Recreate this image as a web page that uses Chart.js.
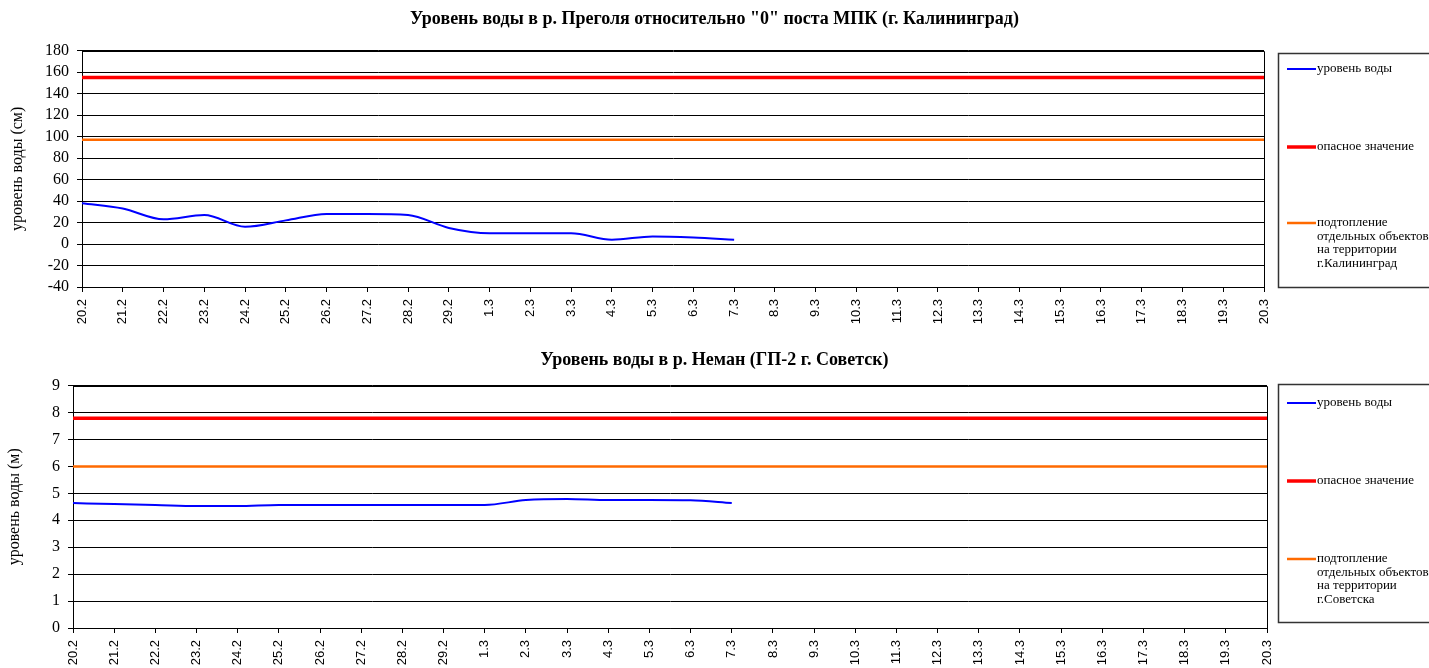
<!DOCTYPE html>
<html>
<head>
<meta charset="utf-8">
<script src="https://cdn.jsdelivr.net/npm/chart.js@4/dist/chart.umd.min.js"></script>
<style>
  html, body { margin: 0; padding: 0; background: #fff; }
  canvas { position: absolute; left: 0; }
  #kld { top: 0; }
  #sov { top: 335px; }
</style>
</head>
<body>
<canvas id="kld" width="1429" height="335"></canvas>
<canvas id="sov" width="1429" height="333"></canvas>
<script>
// ---- data ----
const days = [
  '20.2', '21.2', '22.2', '23.2', '24.2', '25.2', '26.2', '27.2', '28.2', '29.2',
  '1.3', '2.3', '3.3', '4.3', '5.3', '6.3', '7.3', '8.3', '9.3', '10.3',
  '11.3', '12.3', '13.3', '14.3', '15.3', '16.3', '17.3', '18.3', '19.3', '20.3',
];

// Преголя, см
const levelKld = [38, 33, 23, 27, 16, 22, 28, 28, 27, 15, 10, 10, 10, 4, 7, 6, 4];
const dangerKld = 155;
const floodKld = 97;
const ticksKld = { min: -40, max: 180, step: 20 };

// Неман, м
const levelSov = [4.64, 4.6, 4.57, 4.53, 4.53, 4.57, 4.57, 4.57, 4.57, 4.57,
  4.57, 4.75, 4.79, 4.75, 4.75, 4.74, 4.64];
const dangerSov = 7.79;
const floodSov = 6.0;
const ticksSov = { min: 0, max: 9, step: 1 };

const SERIF = "'Liberation Serif', 'Times New Roman', serif";
const SANS = "'Liberation Sans', Arial, sans-serif";

// legend box drawn on the right, Excel style
const boxLegend = {
  id: 'boxLegend',
  afterDraw(chart, args, opts) {
    const { ctx } = chart;
    ctx.save();
    ctx.strokeStyle = '#333';
    ctx.lineWidth = 1.5;
    ctx.strokeRect(opts.x + 0.5, opts.top + 0.5, chart.width, opts.bottom - opts.top);
    ctx.font = '13px ' + SERIF;
    ctx.fillStyle = '#000';
    ctx.textBaseline = 'middle';
    chart.data.datasets.forEach((ds, i) => {
      const y = opts.items[i];
      ctx.strokeStyle = ds.borderColor;
      ctx.lineWidth = ds.borderWidth;
      ctx.beginPath();
      ctx.moveTo(opts.x + 9, y);
      ctx.lineTo(opts.x + 38, y);
      ctx.stroke();
      ds.label.split('\n').forEach((line, k) => {
        ctx.fillText(line, opts.x + 39, y + k * 13.5);
      });
    });
    ctx.restore();
  },
};

// thin frame around plot area
const plotFrame = {
  id: 'plotFrame',
  afterDatasetsDraw(chart) {
    const { ctx, chartArea: a } = chart;
    ctx.save();
    ctx.strokeStyle = '#000';
    ctx.lineWidth = 1;
    ctx.beginPath();
    ctx.moveTo(Math.round(a.left) + 0.5, Math.round(a.top) + 0.5);
    ctx.lineTo(Math.round(a.right) + 0.5, Math.round(a.top) + 0.5);
    ctx.lineTo(Math.round(a.right) + 0.5, Math.round(a.bottom) + 0.5);
    ctx.stroke();
    ctx.restore();
  },
};

function makeChart(id, cfg) {
  const first = days[0];
  const last = days[days.length - 1];
  return new Chart(document.getElementById(id), {
    type: 'line',
    data: {
      labels: days,
      datasets: [
        {
          label: 'уровень воды',
          data: cfg.level,
          borderColor: '#0000ff',
          borderWidth: 2,
          pointRadius: 0,
          cubicInterpolationMode: 'monotone',
        },
        {
          label: 'опасное значение',
          data: [{ x: first, y: cfg.danger }, { x: last, y: cfg.danger }],
          borderColor: '#ff0000',
          borderWidth: 3.5,
          pointRadius: 0,
        },
        {
          label: cfg.floodLabel,
          data: [{ x: first, y: cfg.flood }, { x: last, y: cfg.flood }],
          borderColor: '#ff6a00',
          borderWidth: 2.5,
          pointRadius: 0,
        },
      ],
    },
    options: {
      responsive: false,
      animation: false,
      layout: { padding: 0 },
      plugins: {
        legend: { display: false },
        tooltip: { enabled: false },
        title: {
          display: true,
          text: cfg.title,
          color: '#000',
          font: { family: SERIF, size: 18, weight: 'bold' },
          padding: cfg.titlePad,
        },
        boxLegend: cfg.legend,
      },
      scales: {
        x: {
          ticks: {
            color: '#000',
            font: { family: SANS, size: 13 },
            minRotation: 90,
            maxRotation: 90,
            autoSkip: false,
            padding: 7,
          },
          grid: { drawOnChartArea: false, color: '#000', tickLength: 5 },
          border: { color: '#000' },
          afterFit: (s) => { s.height = cfg.xHeight; },
        },
        y: {
          min: cfg.ticks.min,
          max: cfg.ticks.max,
          ticks: {
            stepSize: cfg.ticks.step,
            autoSkip: false,
            color: '#000',
            font: { family: SERIF, size: 16 },
            padding: 8,
          },
          grid: { color: '#000', tickLength: 5 },
          border: { color: '#000' },
          title: {
            display: true,
            text: cfg.yTitle,
            color: '#000',
            font: { family: SERIF, size: 16 },
            padding: { top: cfg.yTitleTop, bottom: 4 },
          },
          afterFit: (s) => { s.width = cfg.yWidth; },
        },
        legendSpace: {
          type: 'linear',
          position: 'right',
          ticks: { display: false },
          grid: { display: false, drawTicks: false },
          border: { display: false },
          afterFit: (s) => { s.width = cfg.rightWidth; },
        },
      },
    },
    plugins: [plotFrame, boxLegend],
  });
}

makeChart('kld', {
  title: 'Уровень воды в р. Преголя относительно "0" поста МПК (г. Калининград)',
  yTitle: 'уровень воды (см)',
  yTitleTop: 8,
  level: levelKld,
  danger: dangerKld,
  flood: floodKld,
  floodLabel: 'подтопление\nотдельных объектов\nна территории\nг.Калининград',
  ticks: ticksKld,
  titlePad: { top: 9, bottom: 20 },
  xHeight: 48,
  yWidth: 82,
  rightWidth: 165,
  legend: { x: 1278, top: 53, bottom: 287, items: [69, 147, 223] },
});

makeChart('sov', {
  title: 'Уровень воды в р. Неман (ГП-2 г. Советск)',
  yTitle: 'уровень воды (м)',
  yTitleTop: 5,
  level: levelSov,
  danger: dangerSov,
  flood: floodSov,
  floodLabel: 'подтопление\nотдельных объектов\nна территории\nг.Советска',
  ticks: ticksSov,
  titlePad: { top: 15, bottom: 14 },
  xHeight: 40,
  yWidth: 73,
  rightWidth: 162,
  legend: { x: 1278, top: 49, bottom: 287, items: [68, 146, 224] },
});
</script>
</body>
</html>
